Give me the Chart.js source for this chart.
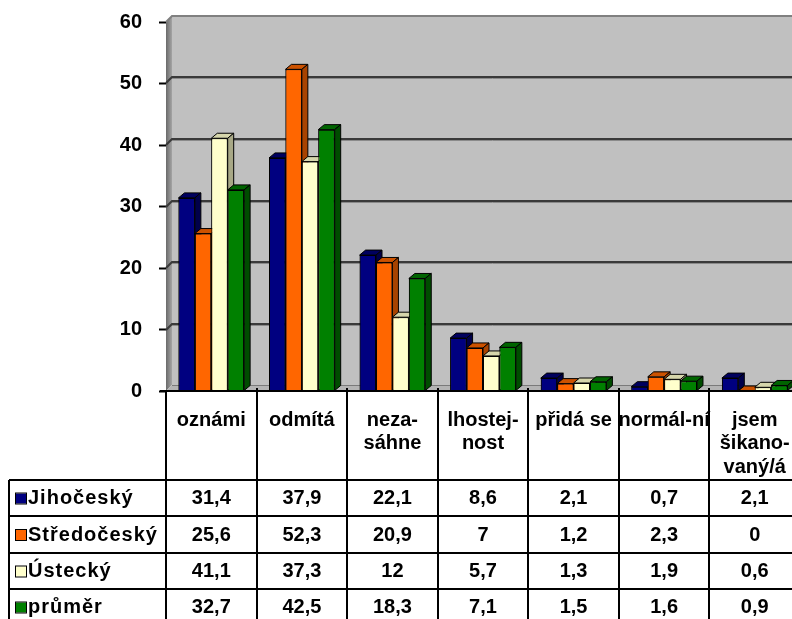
<!DOCTYPE html>
<html>
<head>
<meta charset="utf-8">
<script src="https://cdn.jsdelivr.net/npm/chart.js@4/dist/chart.umd.min.js"></script>
<style>
  html, body { margin: 0; padding: 0; background: #fff; }
  #frame { position: absolute; left: 0; top: 0; width: 792px; height: 619px; overflow: hidden; }
  #box { position: relative; width: 812px; height: 619px; }
</style>
</head>
<body>
<div id="frame"><div id="box"><canvas id="c"></canvas></div></div>
<script>
// Categories (header lines of the data table)
const categories = [
  ['oznámi'],
  ['odmítá'],
  ['neza-', 'sáhne'],
  ['lhostej-', 'nost'],
  ['přidá se'],
  ['normál-ní'],
  ['jsem', 'šikano-', 'vaný/á']
];

const seriesNames = ['Jihočeský', 'Středočeský', 'Ústecký', 'průměr'];

const jihocesky   = [31.4, 37.9, 22.1, 8.6, 2.1, 0.7, 2.1];
const stredocesky = [25.6, 52.3, 20.9, 7,   1.2, 2.3, 0];
const ustecky     = [41.1, 37.3, 12,   5.7, 1.3, 1.9, 0.6];
const prumer      = [32.7, 42.5, 18.3, 7.1, 1.5, 1.6, 0.9];

const yMin = 0, yMax = 60, yStep = 10;

// front / top / side face colours for each series
const faceColors = [
  { front: '#000080', top: '#00005e', side: '#00004a' },
  { front: '#ff6600', top: '#cc5200', side: '#a84300' },
  { front: '#ffffcc', top: '#d6d6ab', side: '#a8a886' },
  { front: '#008000', top: '#006400', side: '#004c00' }
];

const FONT = 'bold 20px "Liberation Sans", Arial, sans-serif';

// Back wall, side wall, floor and gridlines in pseudo-3D
const wallPlugin = {
  id: 'wall',
  beforeDatasetsDraw(chart) {
    const { ctx, chartArea: a, scales: { y } } = chart;
    const dx = 6, dy = -6;
    const y0 = y.getPixelForValue(yMin), yT = y.getPixelForValue(yMax);
    ctx.save();
    // back wall
    ctx.fillStyle = '#c0c0c0';
    ctx.fillRect(a.left + dx, yT + dy, a.right - a.left + 20, y0 - yT);
    // left side wall
    const g = ctx.createLinearGradient(a.left, 0, a.left + dx, 0);
    g.addColorStop(0, '#6a6a6a');
    g.addColorStop(1, '#a4a4a4');
    ctx.fillStyle = g;
    ctx.beginPath();
    ctx.moveTo(a.left, y0);
    ctx.lineTo(a.left + dx, y0 + dy);
    ctx.lineTo(a.left + dx, yT + dy);
    ctx.lineTo(a.left, yT);
    ctx.closePath();
    ctx.fill();
    // floor
    ctx.fillStyle = '#b4b4b4';
    ctx.beginPath();
    ctx.moveTo(a.left, y0);
    ctx.lineTo(a.right + 20, y0);
    ctx.lineTo(a.right + 20, y0 + dy);
    ctx.lineTo(a.left + dx, y0 + dy);
    ctx.closePath();
    ctx.fill();
    ctx.strokeStyle = '#7a7a7a';
    ctx.lineWidth = 1;
    ctx.beginPath();
    ctx.moveTo(a.left + dx, y0 + dy + 0.5);
    ctx.lineTo(a.right + 20, y0 + dy + 0.5);
    ctx.stroke();
    // gridlines
    for (let v = yMin + yStep; v <= yMax; v += yStep) {
      const yy = Math.round(y.getPixelForValue(v));
      ctx.strokeStyle = v === yMax ? '#808080' : '#3a3a3a';
      ctx.lineWidth = 2;
      ctx.beginPath();
      ctx.moveTo(a.left, yy);
      ctx.lineTo(a.left + dx, yy + dy);
      ctx.lineTo(a.right + 20, yy + dy);
      ctx.stroke();
      if (v !== yMax) {
        ctx.strokeStyle = '#8a8a8a';
        ctx.lineWidth = 1;
        ctx.beginPath();
        ctx.moveTo(a.left + dx, yy + dy + 1.5);
        ctx.lineTo(a.right + 20, yy + dy + 1.5);
        ctx.stroke();
      }
    }
    ctx.restore();
  }
};

// Bars redrawn left to right with their top and side faces
const bar3dPlugin = {
  id: 'bar3d',
  afterDatasetsDraw(chart) {
    const { ctx } = chart;
    const bx = 6, by = -5;
    ctx.save();
    chart.data.datasets.forEach((ds, i) => {
      const meta = chart.getDatasetMeta(i);
      const c = faceColors[i];
      meta.data.forEach(el => {
        const p = el.getProps(['x', 'y', 'base', 'width'], true);
        const l = p.x - p.width / 2, r = p.x + p.width / 2;
        el.draw(ctx);
        ctx.lineWidth = 1;
        ctx.strokeStyle = '#000';
        // top face
        ctx.fillStyle = c.top;
        ctx.beginPath();
        ctx.moveTo(l, p.y);
        ctx.lineTo(r, p.y);
        ctx.lineTo(r + bx, p.y + by);
        ctx.lineTo(l + bx, p.y + by);
        ctx.closePath();
        ctx.fill();
        ctx.stroke();
        // side face
        ctx.fillStyle = c.side;
        ctx.beginPath();
        ctx.moveTo(r, p.y);
        ctx.lineTo(r + bx, p.y + by);
        ctx.lineTo(r + bx, p.base + by);
        ctx.lineTo(r, p.base);
        ctx.closePath();
        ctx.fill();
        ctx.stroke();
      });
    });
    ctx.restore();
  }
};

// Data table under the plot
const tablePlugin = {
  id: 'table',
  afterDraw(chart) {
    const { ctx, chartArea: a, scales: { x } } = chart;
    const n = categories.length;
    const w = (x.right - x.left) / n;
    const top = Math.round(a.bottom);
    const rowLines = [480, 516, 553, 589, 625];
    const labelLeft = 9;
    ctx.save();
    ctx.strokeStyle = '#000';
    ctx.lineWidth = 2;
    ctx.beginPath();
    // axis line
    ctx.moveTo(a.left - 6, top);
    ctx.lineTo(x.right + 20, top);
    // column separators
    for (let i = 0; i <= n; i++) {
      const bxp = Math.round(x.left + i * w);
      ctx.moveTo(bxp, top - (i > 0 ? 3 : 0));
      ctx.lineTo(bxp, 640);
    }
    // row separators
    rowLines.forEach(ry => {
      ctx.moveTo(labelLeft, ry);
      ctx.lineTo(x.right + 20, ry);
    });
    ctx.moveTo(labelLeft, rowLines[0]);
    ctx.lineTo(labelLeft, 640);
    ctx.stroke();

    ctx.font = FONT;
    ctx.fillStyle = '#000';
    ctx.textBaseline = 'middle';
    // header
    ctx.textAlign = 'center';
    categories.forEach((lines, i) => {
      const cx = x.getPixelForValue(i);
      lines.forEach((t, k) => ctx.fillText(t, cx, 420 + k * 23.5));
    });
    // rows
    const series = [jihocesky, stredocesky, ustecky, prumer];
    series.forEach((vals, r) => {
      const cy = (rowLines[r] + rowLines[r + 1]) / 2 + 0.5;
      ctx.fillStyle = faceColors[r].front;
      ctx.fillRect(16, cy - 5, 10, 10);
      ctx.lineWidth = 1;
      ctx.strokeStyle = '#000';
      ctx.strokeRect(15.5, cy - 5.5, 11, 11);
      ctx.fillStyle = '#000';
      ctx.textAlign = 'left';
      ctx.letterSpacing = '1px';
      ctx.fillText(seriesNames[r], 28, cy);
      ctx.letterSpacing = '0px';
      ctx.textAlign = 'center';
      vals.forEach((v, i) => {
        ctx.fillText(String(v).replace('.', ','), x.getPixelForValue(i), cy);
      });
    });
    ctx.restore();
  }
};

new Chart(document.getElementById('c'), {
  type: 'bar',
  data: {
    labels: categories.map(l => l.join(' ')),
    datasets: [jihocesky, stredocesky, ustecky, prumer].map((d, i) => ({
      label: seriesNames[i],
      data: d,
      backgroundColor: faceColors[i].front,
      borderColor: '#000',
      borderWidth: 1,
      categoryPercentage: 0.725,
      barPercentage: 1.0
    }))
  },
  options: {
    responsive: true,
    maintainAspectRatio: false,
    devicePixelRatio: 1,
    animation: false,
    layout: { padding: { left: 0, top: 22, right: 12, bottom: 228 } },
    plugins: { legend: { display: false }, tooltip: { enabled: false } },
    scales: {
      x: { display: false },
      y: {
        min: yMin, max: yMax,
        afterFit(scale) {
          scale.width = 166;
          scale.paddingTop = 0;
          scale.paddingBottom = 0;
        },
        ticks: {
          stepSize: yStep,
          color: '#000',
          padding: 17,
          font: { family: '"Liberation Sans", Arial, sans-serif', size: 20, weight: 'bold' }
        },
        grid: { drawOnChartArea: false, drawTicks: true, tickLength: 7, tickWidth: 2, tickColor: '#000' },
        border: { display: false }
      }
    }
  },
  plugins: [wallPlugin, bar3dPlugin, tablePlugin]
});
</script>
</body>
</html>
